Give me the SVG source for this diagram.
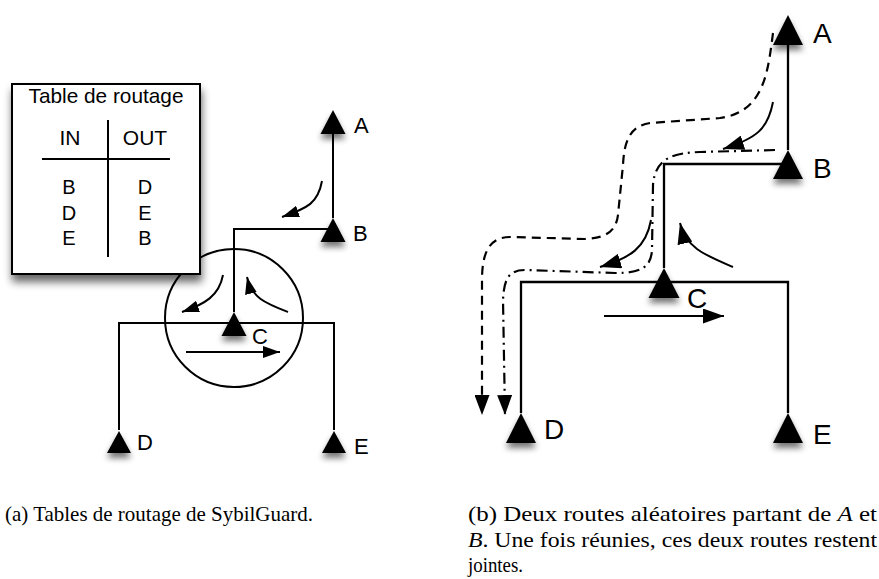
<svg xmlns="http://www.w3.org/2000/svg" width="879" height="579" viewBox="0 0 879 579">
<style>
  .ln{fill:none;stroke:#000;stroke-width:2}
  .ln2{fill:none;stroke:#000;stroke-width:2.3}
  .tri{fill:#000;filter:url(#sh)}
  .lbl{font-family:"Liberation Sans",Arial,sans-serif;fill:#000}
  .l20{font-size:21px}
  .l22{font-size:22px}
  .l26{font-size:28px}
  .cap{font-family:"Liberation Serif","Times New Roman",serif;font-size:21px;fill:#000}
  .dash{fill:none;stroke:#000;stroke-width:2.2;stroke-dasharray:9 6}
  .dashdot{fill:none;stroke:#000;stroke-width:2.2;stroke-dasharray:11 5 2 5}
</style>
<defs>
  <filter id="sh" x="-60%" y="-60%" width="220%" height="240%">
    <feGaussianBlur in="SourceAlpha" stdDeviation="3"/>
    <feOffset dy="5" result="b"/>
    <feComponentTransfer><feFuncA type="linear" slope="0.55"/></feComponentTransfer>
    <feMerge><feMergeNode/><feMergeNode in="SourceGraphic"/></feMerge>
  </filter>
  <filter id="bsh" x="-20%" y="-20%" width="140%" height="140%">
    <feGaussianBlur in="SourceAlpha" stdDeviation="4"/>
    <feOffset dx="1" dy="7" result="b"/>
    <feComponentTransfer><feFuncA type="linear" slope="0.6"/></feComponentTransfer>
    <feMerge><feMergeNode/><feMergeNode in="SourceGraphic"/></feMerge>
  </filter>
  <marker id="ahs" markerUnits="userSpaceOnUse" markerWidth="17" markerHeight="12" refX="17" refY="6" orient="auto">
    <path d="M0,0 L17,6 L0,12 z" fill="#000"/>
  </marker>
  <marker id="ahl" markerUnits="userSpaceOnUse" markerWidth="21" markerHeight="15" refX="21" refY="7.5" orient="auto">
    <path d="M0,0 L21,7.5 L0,15 z" fill="#000"/>
  </marker>
  <marker id="ahd" markerUnits="userSpaceOnUse" markerWidth="20" markerHeight="15" refX="20" refY="7.5" orient="auto">
    <path d="M0,0 L20,7.5 L0,15 z" fill="#000"/>
  </marker>
</defs>
<rect width="879" height="579" fill="#fff"/>

<!-- Left panel -->
<g id="connectors-a">
  <path class="ln" d="M333,134 V218"/>
  <path class="ln" d="M333,229 H234 V312"/>
  <path class="ln" d="M119,430 V323 H334 V430"/>
  <circle class="ln" cx="234" cy="318" r="69" stroke-width="1.7"/>
  <path class="ln" stroke-width="1.7" d="M322,181 C318,203 308,208 282,217" marker-end="url(#ahs)"/>
  <path class="ln" stroke-width="1.7" d="M223,275 C219,296 205,304 182,312" marker-end="url(#ahs)"/>
  <path class="ln" stroke-width="1.7" d="M288,312 C265,303 252,298 247,277" marker-end="url(#ahs)"/>
  <path class="ln" stroke-width="1.7" d="M186,352 H280" marker-end="url(#ahs)"/>
</g>
<g id="node-a-A"><path class="tri" d="M333,110 L345.5,134 L320.5,134 z"/><text class="lbl l22" x="354" y="133">A</text></g>
<g id="node-a-B"><path class="tri" d="M333,218 L345.5,242 L320.5,242 z"/><text class="lbl l22" x="353" y="241">B</text></g>
<g id="node-a-C"><path class="tri" d="M234,312 L246.5,336 L221.5,336 z"/><text class="lbl l22" x="252" y="344">C</text></g>
<g id="node-a-D"><path class="tri" d="M119,431 L131,453 L107,453 z"/><text class="lbl l22" x="137" y="450">D</text></g>
<g id="node-a-E"><path class="tri" d="M334,431 L346,453 L322,453 z"/><text class="lbl l22" x="354" y="454">E</text></g>

<g id="table">
  <rect x="12" y="84" width="188" height="190" fill="#fff" stroke="#000" stroke-width="2" filter="url(#bsh)"/>
  <text class="lbl l20" x="106" y="103" text-anchor="middle" textLength="155" lengthAdjust="spacingAndGlyphs">Table de routage</text>
  <text class="lbl l20" x="70" y="145" text-anchor="middle">IN</text>
  <text class="lbl l20" x="145" y="145" text-anchor="middle">OUT</text>
  <path class="ln" stroke-width="1.7" d="M42,159 H170 M108,120 V257"/>
  <g class="lbl" font-size="20" text-anchor="middle">
    <text x="69" y="194">B</text><text x="69" y="220">D</text><text x="69" y="245">E</text>
    <text x="145" y="194">D</text><text x="145" y="220">E</text><text x="145" y="245">B</text>
  </g>
</g>

<!-- Right panel -->
<g id="connectors-b">
  <path class="ln2" d="M788,45 V150"/>
  <path class="ln2" d="M788,164 H664 V268"/>
  <path class="ln2" d="M521,413 V282 H788 V413"/>
  <path class="ln" d="M773,102 C768,128 758,138 723,149" marker-end="url(#ahl)"/>
  <path class="ln" d="M651,220 C646,248 630,258 600,267" marker-end="url(#ahl)"/>
  <path class="ln" d="M733,267 C705,255 686,248 680,223" marker-end="url(#ahl)"/>
  <path class="ln" d="M604,316 H724" marker-end="url(#ahl)"/>
  <path class="dash" d="M773,33 C768,70 765,112 720,118 L650,123 C628,126 624,145 623,165 L618,215 C616,232 605,238 585,239 L510,237 C488,237 482,255 482,280 L482,415" marker-end="url(#ahd)"/>
  <path class="dashdot" d="M775,150 L700,152 C675,153 655,157 653,185 L652,250 C651,268 640,273 615,273 L525,270 C508,270 504,280 503,300 L505,415" marker-end="url(#ahd)"/>
</g>
<g id="node-b-A"><path class="tri" d="M788,15 L803,45 L773,45 z"/><text class="lbl l26" x="813" y="43">A</text></g>
<g id="node-b-B"><path class="tri" d="M788,150 L803,179 L773,179 z"/><text class="lbl l26" x="813" y="178">B</text></g>
<g id="node-b-C"><path class="tri" d="M664,268 L679.5,298 L648.5,298 z"/><text class="lbl l26" x="687" y="308">C</text></g>
<g id="node-b-D"><path class="tri" d="M521,413 L536,443 L506,443 z"/><text class="lbl l26" x="544" y="439">D</text></g>
<g id="node-b-E"><path class="tri" d="M788,413 L803,443 L773,443 z"/><text class="lbl l26" x="813" y="444">E</text></g>

<!-- Captions -->
<g id="captions">
  <text class="cap" x="5" y="521" textLength="308" lengthAdjust="spacingAndGlyphs">(a) Tables de routage de SybilGuard.</text>
  <text class="cap" x="468" y="521" textLength="409" lengthAdjust="spacingAndGlyphs">(b) Deux routes aléatoires partant de <tspan font-style="italic">A</tspan> et</text>
  <text class="cap" x="468" y="547" textLength="409" lengthAdjust="spacingAndGlyphs"><tspan font-style="italic">B</tspan>. Une fois réunies, ces deux routes restent</text>
  <text class="cap" x="468" y="572" textLength="55" lengthAdjust="spacingAndGlyphs">jointes.</text>
</g>
</svg>
